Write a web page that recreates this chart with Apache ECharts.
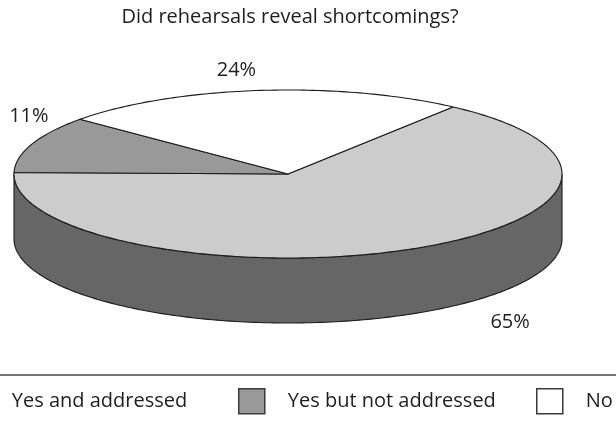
<!DOCTYPE html>
<html>
<head>
<meta charset="utf-8">
<script src="https://cdn.jsdelivr.net/npm/echarts@6/dist/echarts.min.js"></script>
<style>
  html, body { margin: 0; padding: 0; background: #ffffff; }
  #chart { width: 616px; height: 425px; }
</style>
</head>
<body>
<div id="chart"></div>
<script>
// ---- data ----
const chartTitle = 'Did rehearsals reveal shortcomings?';
const categories = ['Yes and addressed', 'Yes but not addressed', 'No'];
const shares = [65, 11, 24];

// ---- styling ----
const FONT = '"Open Sans", "Liberation Sans", sans-serif';
const topColors = ['#cccccc', '#999999', '#ffffff'];
const sideColors = ['#666666', '#4c4c4c', '#808080'];
const edgeColor = '#1a1a1a';
// label placement relative to the rim point at each slice's mid angle
const labelNudge = [[102, 8], [-3, -28], [-22, -20]];
// tilted pie: centre, radii of the top ellipse, thickness, first slice start (deg, counter-clockwise from 3 o'clock)
const PIE = { cx: 288, cy: 174, rx: 274, ry: 84, depth: 65, start: 53 };

const total = shares.reduce((a, b) => a + b, 0);
const cumStart = [];
let acc = 0;
shares.forEach(v => { cumStart.push(acc); acc += v; });

function rim(theta, drop) {
  const r = theta * Math.PI / 180;
  return [PIE.cx + PIE.rx * Math.cos(r), PIE.cy - PIE.ry * Math.sin(r) + (drop || 0)];
}
function arcPoints(a0, a1, drop) {
  const pts = [];
  const n = Math.max(2, Math.ceil(Math.abs(a0 - a1)));
  for (let i = 0; i <= n; i++) pts.push(rim(a0 + (a1 - a0) * i / n, drop));
  return pts;
}

function makeRenderItem(idx) {
  return function (params, api) {
    const value = api.value(0);
    const before = api.value(1);
    // slices run clockwise from PIE.start
    const a0 = PIE.start - before / total * 360;
    const a1 = a0 - value / total * 360;
    const children = [];

    // visible side wall: parts of the slice lying on the front half (180..360 deg)
    for (let k = -3; k <= 1; k++) {
      const lo = Math.max(a1, 180 + 360 * k);
      const hi = Math.min(a0, 360 + 360 * k);
      if (hi - lo > 0.01) {
        const pts = arcPoints(hi, lo, 0).concat(arcPoints(lo, hi, PIE.depth));
        children.push({
          type: 'polygon', z2: 1,
          shape: { points: pts },
          style: { fill: sideColors[idx], stroke: edgeColor, lineWidth: 1.1 }
        });
      }
    }

    // top face
    children.push({
      type: 'polygon', z2: 10,
      shape: { points: [[PIE.cx, PIE.cy]].concat(arcPoints(a0, a1, 0)) },
      style: { fill: topColors[idx], stroke: edgeColor, lineWidth: 1.1, lineJoin: 'round' }
    });

    // percentage label
    const mid = (a0 + a1) / 2;
    const front = Math.sin(mid * Math.PI / 180) < 0;
    const p = rim(mid, front ? PIE.depth : 0);
    children.push({
      type: 'text', z2: 20,
      x: p[0] + labelNudge[idx][0],
      y: p[1] + labelNudge[idx][1],
      style: {
        text: Math.round(value / total * 100) + '%',
        fill: '#1e1e1e',
        font: '20px ' + FONT,
        align: 'center',
        verticalAlign: 'middle'
      }
    });
    return { type: 'group', children };
  };
}

const series = categories.map((name, i) => ({
  type: 'custom',
  name: name,
  coordinateSystem: 'none',
  silent: true,
  itemStyle: { color: topColors[i] },
  data: [{ name: name, value: [shares[i], cumStart[i]] }],
  renderItem: makeRenderItem(i)
}));

const legendBase = {
  orient: 'horizontal',
  top: 388,
  padding: 0,
  icon: 'rect',
  itemWidth: 26,
  itemHeight: 25,
  selectedMode: false,
  itemStyle: { borderColor: '#3a3a3a', borderWidth: 1.5 },
  textStyle: { fontFamily: FONT, fontSize: 20, color: '#1e1e1e', padding: [0, 0, 0, 18] }
};
const legendLeft = [-38, 238, 536];

const chart = echarts.init(document.getElementById('chart'), null, { renderer: 'canvas' });
chart.setOption({
  animation: false,
  backgroundColor: '#ffffff',
  title: {
    text: chartTitle,
    left: 285,
    textAlign: 'center',
    top: 2,
    textStyle: { fontFamily: FONT, fontSize: 20, fontWeight: 'normal', color: '#1e1e1e' }
  },
  legend: categories.map((name, i) => Object.assign({}, legendBase, { data: [name], left: legendLeft[i] })),
  graphic: [{
    type: 'line',
    shape: { x1: 0, y1: 375, x2: 616, y2: 375 },
    style: { stroke: '#777777', lineWidth: 2 }
  }],
  series: series
});
</script>
</body>
</html>
